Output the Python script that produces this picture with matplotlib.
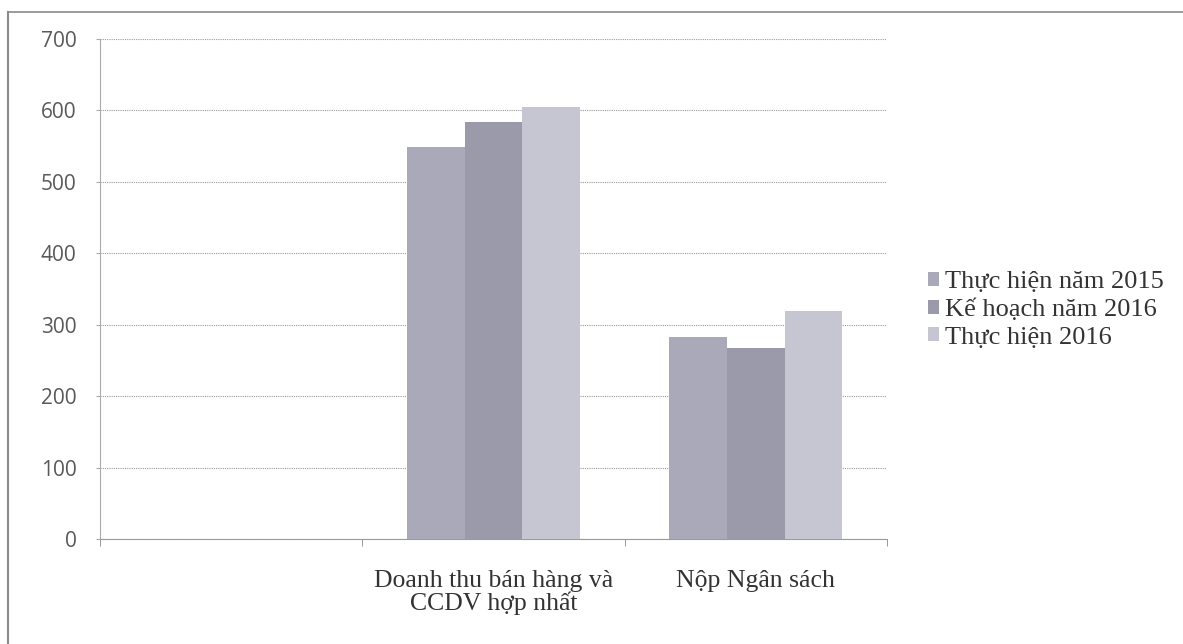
import matplotlib
matplotlib.use("Agg")
import matplotlib.pyplot as plt
import numpy as np
from matplotlib.patches import Patch
from matplotlib.lines import Line2D

categories = ["", "Doanh thu bán hàng và\nCCDV hợp nhất", "Nộp Ngân sách"]
series_names = ["Thực hiện năm 2015", "Kế hoạch năm 2016", "Thực hiện 2016"]
thuc_hien_2015 = [0, 549, 283]
ke_hoach_2016 = [0, 584, 267]
thuc_hien_2016 = [0, 605, 319]
yticks = [0, 100, 200, 300, 400, 500, 600, 700]

colors = ["#a9a9b9", "#9a9aab", "#c6c6d2"]

fig = plt.figure(figsize=(11.83, 6.44), dpi=100)
ax = fig.add_axes([100/1183, 1-539/644, (887-100)/1183, (539-39)/644])

x = np.arange(len(categories))
w = 0.22
for i, (vals, c) in enumerate(zip([thuc_hien_2015, ke_hoach_2016, thuc_hien_2016], colors)):
    ax.bar(x + (i-1)*w, vals, width=w, color=c, edgecolor="none", zorder=3)

ax.set_xlim(-0.5, len(categories)-0.5)
ax.set_ylim(0, 700)
ax.set_yticks(yticks)
ax.set_yticklabels([str(v) for v in yticks], fontsize=15, color="#595959", family="Open Sans")
ax.yaxis.grid(True, linestyle=(0, (1, 1)), color="#9a9a9a", linewidth=0.8, zorder=0)
ax.set_xticks(x)
ax.set_xticklabels(categories, fontsize=18.5, family="Liberation Serif", color="#333333", linespacing=1.0)
ax.tick_params(axis="x", length=0, pad=22)
ax.set_xticks(np.arange(len(categories)+1)-0.5, minor=True)
ax.tick_params(axis="x", which="minor", length=5, color="#888888")
ax.tick_params(axis="y", length=3, color="#aaaaaa", pad=14)
for s in ["top", "right"]:
    ax.spines[s].set_visible(False)
ax.spines["left"].set_color("#aaaaaa")
ax.spines["left"].set_linestyle((0, (1, 1)))
ax.spines["bottom"].set_color("#9a9a9a")
ax.spines["bottom"].set_linestyle((0, (1, 1)))

handles = [Patch(facecolor=c, edgecolor="none") for c in colors]
leg = fig.legend(handles, series_names, loc="center left", bbox_to_anchor=(928/1183, 1-310/644),
                 frameon=False, prop={"family": "Liberation Serif", "size": 19},
                 handlelength=0.42, handleheight=0.42, handletextpad=0.22, labelspacing=0.2,
                 borderpad=0, borderaxespad=0)
for t in leg.get_texts():
    t.set_color("#333333")

# outer border (top and left)
fig.add_artist(Line2D([8/1183, 1], [1-12/644, 1-12/644], color="#8a8a8a", linewidth=1.2, transform=fig.transFigure))
fig.add_artist(Line2D([8/1183, 8/1183], [0, 1-12/644], color="#8a8a8a", linewidth=1.5, transform=fig.transFigure))

fig.savefig("out.png", dpi=100)
